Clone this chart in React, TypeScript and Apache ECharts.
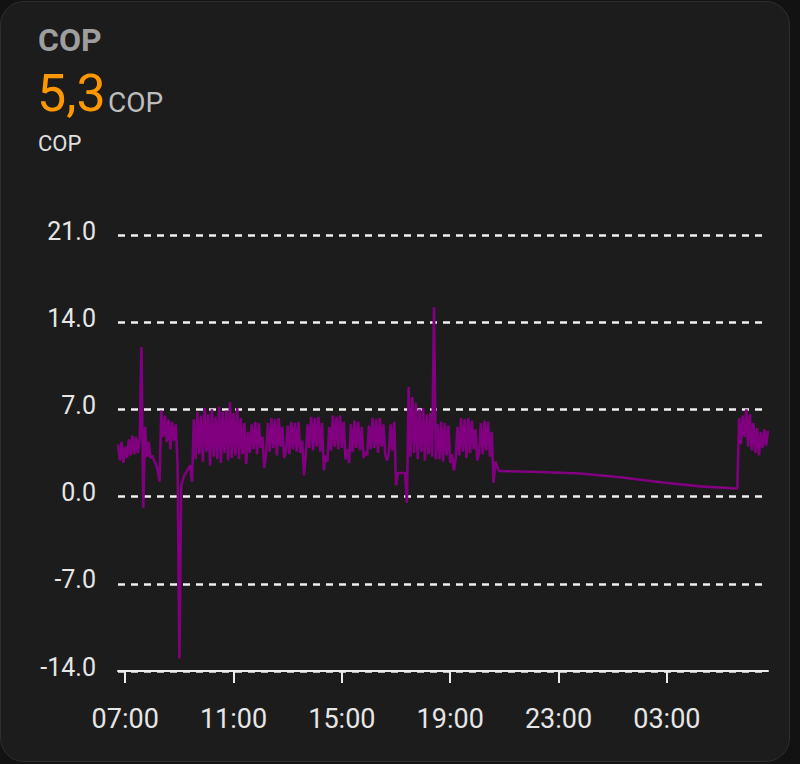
import React, { useEffect, useRef } from "react";
import * as echarts from "echarts";

// Window shown: 06:44 -> 06:44 next day (hours since midnight of first day)
const WINDOW_START = "06:44";
const WINDOW_END = "06:44";

// Daytime samples, one every STEP_MIN minutes starting at WINDOW_START
const STEP_MIN = 4;
const dayValues = [
  4.2, 2.9, 4.4, 2.7, 4.0, 3.1, 4.6, 3.3, 4.9, 3.4, 4.8, 3.5, 4.6,
  12.0, -0.9,
  5.6, 3.2, 4.4, 3.1, 3.3, 2.9, 2.6, 2.1, 1.2,
  6.9, 4.8, 6.5, 4.4, 6.2, 3.8, 6.0, 4.5, 5.8,
  2.5, -13.0,
  0.8, 1.4, 1.8, 2.0, 2.3, 2.5, 1.2,
  6.2, 3.0, 6.8, 3.4, 6.5, 2.8, 7.1, 3.6, 6.6, 2.5, 7.0, 3.2, 6.4, 3.0, 7.2, 2.7,
  6.8, 3.5, 6.9, 2.9, 7.6, 3.1, 6.7, 3.3, 7.1, 3.0, 6.3, 3.4, 5.9,
  2.6,
  5.2, 3.5, 5.8, 3.8, 6.0, 3.4, 5.9, 3.9,
  4.8, 2.3, 3.4,
  5.9, 3.6, 6.3, 3.9, 6.2, 3.3, 6.3, 4.0, 5.6,
  3.1, 3.6,
  5.7, 3.4, 6.0, 3.8, 5.9, 3.6, 6.0, 3.5,
  4.5, 1.7, 3.2,
  5.8, 3.9, 6.4, 3.7, 6.3, 4.0, 6.4, 3.6, 5.9,
  2.1, 3.3, 2.8,
  5.6, 3.7, 6.5, 4.0, 6.4, 3.8, 6.5, 3.9, 6.0,
  3.0, 3.8, 2.7,
  5.8, 3.6, 6.1, 3.9, 6.0, 3.7, 5.6,
  3.1, 3.6, 3.3,
  5.7, 3.8, 6.3, 3.9, 6.2, 3.5, 6.3, 4.0, 5.8,
  3.4, 2.9, 3.5,
  5.8, 3.7, 6.0,
  0.9, 1.9, 1.9, 1.9, 1.9, 1.9,
  -0.5, 8.8,
  3.2, 8.0, 3.5, 7.5, 3.0, 7.0, 3.6, 7.1, 2.9, 6.6, 3.4, 6.7, 3.2,
  15.2, 3.0,
  5.8, 3.0, 6.0, 2.8, 5.9, 3.3, 5.7, 2.7,
  3.4, 2.1, 3.0,
  5.6, 3.3, 6.3, 3.6, 6.2, 3.1, 6.3, 3.5, 6.1, 3.8, 5.4,
  2.9, 3.5,
  5.9, 3.4, 6.1, 3.7, 6.0, 3.2, 5.2,
  1.1, 2.8, 2.4, 2.05,
];

// Sparse overnight readings
const nightTimes = ["20:50", "22:20", "23:48", "01:17", "02:46", "04:14", "05:36"];
const nightValues = [2.05, 1.98, 1.85, 1.55, 1.15, 0.82, 0.65];

// Morning samples, one every STEP_MIN minutes starting at MORNING_START
const MORNING_START = "05:40";
const morningValues = [6.3, 4.2, 6.5, 4.8, 7.0, 4.0, 6.6, 3.7, 5.9, 3.5, 5.5, 3.3, 5.2, 3.9, 5.4, 4.1, 5.3];

const xTickTimes = ["07:00", "11:00", "15:00", "19:00", "23:00", "03:00"];
const yMin = -14;
const yMax = 21;
const yStep = 7;

const currentValue = "5,3";
const unit = "COP";
const title = "COP";

const startH = toHours(WINDOW_START);
function toHours(s: string): number {
  const [h, m] = s.split(":").map(Number);
  return h + m / 60;
}
// times earlier than the window start belong to the next day
function toWindowHours(s: string): number {
  const h = toHours(s);
  return h < startH ? h + 24 : h;
}
const endH = toHours(WINDOW_END) + (toHours(WINDOW_END) <= startH ? 24 : 0);

function buildData(): [number, number][] {
  const out: [number, number][] = [];
  dayValues.forEach((v, i) => out.push([startH + (i * STEP_MIN) / 60, v]));
  nightTimes.forEach((t, i) => out.push([toWindowHours(t), nightValues[i]]));
  const ms = toWindowHours(MORNING_START);
  morningValues.forEach((v, i) => out.push([ms + (i * STEP_MIN) / 60, v]));
  return out;
}

export default function App() {
  const ref = useRef<HTMLDivElement>(null);
  useEffect(() => {
    if (!ref.current) return;
    const chart = echarts.init(ref.current, null, { renderer: "svg" });
    const tickHours = xTickTimes.map(toWindowHours);
    const font = "Roboto";
    chart.setOption({
      animation: false,
      backgroundColor: "transparent",
      textStyle: { fontFamily: font },
      graphic: [
        {
          type: "text",
          x: 38,
          y: 40,
          style: { text: title, fill: "#9e9e9e", font: `bold 32px ${font}`, verticalAlign: "middle" },
        },
        {
          type: "text",
          x: 37,
          y: 93,
          style: { text: currentValue, fill: "#ff9800", font: `52px ${font}`, verticalAlign: "middle" },
        },
        {
          type: "text",
          x: 108,
          y: 102,
          style: { text: unit, fill: "#bdbdbd", font: `28px ${font}`, verticalAlign: "middle" },
        },
        {
          type: "text",
          x: 38,
          y: 143,
          style: { text: unit, fill: "#e0e0e0", font: `22px ${font}`, verticalAlign: "middle" },
        },
      ],
      grid: { left: 118, right: 32, top: 235, bottom: 93 },
      xAxis: {
        type: "value",
        min: startH,
        max: endH,
        splitLine: { show: false },
        axisLine: { show: true, onZero: false, lineStyle: { color: "#ececec", width: 2 } },
        axisTick: {
          show: true,
          customValues: tickHours,
          length: 12,
          lineStyle: { color: "#ececec", width: 2 },
        },
        axisLabel: {
          customValues: tickHours,
          color: "#e6e6e6",
          fontSize: 27,
          fontFamily: font,
          margin: 34,
          formatter: (v: number) => {
            const h = Math.round(v) % 24;
            return (h < 10 ? "0" : "") + h + ":00";
          },
        },
      },
      yAxis: {
        type: "value",
        min: yMin,
        max: yMax,
        interval: yStep,
        axisLine: { show: false },
        axisTick: { show: false },
        axisLabel: {
          color: "#e6e6e6",
          fontSize: 25,
          fontFamily: font,
          margin: 22,
          verticalAlign: "bottom",
          lineHeight: 8,
          formatter: (v: number) => v.toFixed(1),
        },
        splitLine: { show: true, lineStyle: { color: "#f0f0f0", width: 2.6, type: [7, 6] } },
      },
      series: [
        {
          type: "line",
          data: buildData(),
          showSymbol: false,
          lineStyle: { color: "#800080", width: 2.6 },
          itemStyle: { color: "#800080" },
          clip: true,
        },
      ],
    });
    return () => chart.dispose();
  }, []);

  return (
    <div style={{ position: "fixed", left: 0, top: 0, width: 800, height: 764, background: "#121212", overflow: "hidden" }}>
      <div
        style={{
          position: "absolute",
          left: 0,
          top: 1,
          width: 790,
          height: 761,
          borderRadius: 24,
          background: "#1c1c1c",
          border: "1px solid #2e2e2e",
          boxSizing: "border-box",
        }}
      />
      <div ref={ref} style={{ position: "absolute", left: 0, top: 0, width: 800, height: 764 }} />
    </div>
  );
}
